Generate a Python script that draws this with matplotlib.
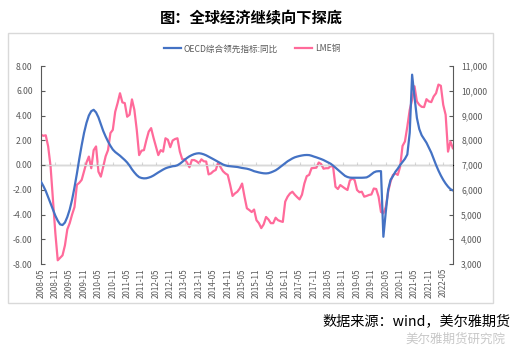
import matplotlib
matplotlib.use("Agg")
import matplotlib.pyplot as plt
import matplotlib.patches as mpatches
import pandas as pd

plt.rcParams['font.family'] = ['Noto Sans CJK SC', 'DejaVu Sans']

# 月份 2008-05 ... 2022-09
months = pd.period_range("2008-05", "2022-09", freq="M").strftime("%Y-%m").tolist()

# OECD综合领先指标:同比 (左轴)
oecd = [
    -1.35, -1.7, -2.1, -2.6, -3.1, -3.6, -4.1, -4.5, -4.8, -4.85,
    -4.65, -4.2, -3.6, -2.8, -1.8, -0.7, 0.5, 1.6, 2.6, 3.4,
    4.0, 4.35, 4.46, 4.25, 3.85, 3.3, 2.75, 2.3, 1.9, 1.55,
    1.25, 1.05, 0.9, 0.75, 0.58, 0.4, 0.2, -0.05, -0.35, -0.6,
    -0.82, -0.98, -1.05, -1.08, -1.07, -1.02, -0.95, -0.85, -0.72, -0.6,
    -0.48, -0.37, -0.27, -0.2, -0.15, -0.1, -0.08, -0.02, 0.1, 0.25,
    0.42, 0.57, 0.7, 0.8, 0.88, 0.93, 0.95, 0.92, 0.86, 0.78,
    0.68, 0.58, 0.47, 0.36, 0.25, 0.14, 0.04, -0.03, -0.08, -0.1,
    -0.12, -0.14, -0.16, -0.2, -0.24, -0.27, -0.3, -0.35, -0.42, -0.5,
    -0.55, -0.6, -0.64, -0.67, -0.68, -0.66, -0.6, -0.52, -0.43, -0.3,
    -0.15, 0.0, 0.15, 0.3, 0.42, 0.53, 0.62, 0.68, 0.73, 0.77,
    0.8, 0.81, 0.8, 0.75, 0.68, 0.62, 0.55, 0.48, 0.4, 0.3,
    0.2, 0.1, -0.05, -0.22, -0.4, -0.55, -0.72, -0.88, -0.97, -1.02,
    -1.03, -1.03, -1.03, -1.03, -1.03, -1.02, -1.0, -0.9, -0.75, -0.6,
    -0.52, -0.5, -0.5, -5.8, -3.8, -2.0, -1.2, -0.9, -0.55, -0.3,
    0.0, 0.25, 0.5, 0.85, 2.6, 7.3, 5.5, 3.8, 2.9, 2.4,
    2.1, 1.8, 1.4, 1.0, 0.5, 0.0, -0.45, -0.85, -1.2, -1.5,
    -1.75, -1.95, -2.05,
]

# LME铜 (右轴, 美元/吨)
copper = [
    8220, 8180, 8200, 7750, 6950, 5600, 4250, 3150, 3250, 3350,
    3750, 4400, 4650, 5000, 5300, 6200, 6280, 6400, 6750, 7100,
    7340, 6870, 7600, 7750, 6730, 6530, 6930, 7350, 7600, 8290,
    8420, 9150, 9500, 9900, 9530, 9500, 8950, 9030, 9650, 9230,
    8420, 7400, 7580, 7600, 8000, 8350, 8490, 8100, 7750, 7400,
    7600, 7540, 8080, 8020, 7720, 7990, 8050, 8080, 7540, 7230,
    7230, 7100, 6910, 7200, 7200, 7150, 7070, 7230, 7150, 7140,
    6620, 6660, 6750, 6800, 7100, 6910, 6750, 6660, 6600, 6200,
    5750, 5850, 5920, 6050, 6250, 5720, 5250, 5180, 5100, 5200,
    4770, 4650, 4450, 4600, 4900, 4800, 4650, 4650, 4870, 4770,
    4730, 4700, 5520, 5720, 5850, 5920, 5800, 5700, 5610, 5800,
    6250, 6550, 6600, 6870, 6880, 6890, 7100, 7040, 6850, 6870,
    6870, 6960, 6930, 6120, 6030, 6190, 6120, 6050, 5990, 6370,
    6460, 6390, 5990, 5900, 5920, 5720, 5750, 5790, 5810, 6050,
    6030, 5720, 5100, 5050, 5300, 5920, 6330, 6600, 6660, 6600,
    6930, 7770, 7950, 8550, 9230, 9640, 10180, 9570, 9430, 9350,
    9340, 9660, 9570, 9540, 9770, 9900, 10250, 10200, 9430, 9030,
    7540, 7950, 7680,
]

blue = '#4472C4'
pink = '#FF6A9A'
grey = '#595959'

fig = plt.figure(figsize=(5.2, 3.52), dpi=100)

# 外框
fig.patches.append(mpatches.Rectangle((0.0154, 0.139), 0.933, 0.767, transform=fig.transFigure,
                                      fill=False, edgecolor='#d9d9d9', linewidth=1.0))

fig.text(0.483, 0.949, '图：全球经济继续向下探底', ha='center', va='center',
         fontsize=11, fontweight='bold')

ax = fig.add_axes([0.0788, 0.25, 0.792, 0.5625])
ax2 = ax.twinx()

x = list(range(len(months)))
l1, = ax.plot(x, oecd, color=blue, linewidth=1.6, zorder=3)
l2, = ax2.plot(x, copper, color=pink, linewidth=1.6)
ax.set_zorder(ax2.get_zorder() + 1)
ax.patch.set_visible(False)

ax.set_ylim(-8, 8)
ax.set_yticks(range(-8, 9, 2))
ax.set_yticklabels([f'{v:.2f}' for v in range(-8, 9, 2)])
ax2.set_ylim(3000, 11000)
ax2.set_yticks(range(3000, 11001, 1000))
ax2.set_yticklabels([f'{v:,}' for v in range(3000, 11001, 1000)])
ax.set_xlim(0, len(months) - 1)

ax.axhline(0, color='#d9d9d9', linewidth=0.9, zorder=1)

ticks = x[::6]
ax.set_xticks(ticks)
ax.set_xticklabels(months[::6], rotation=90, fontsize=5.8, color=grey)
ax.tick_params(axis='x', length=0, pad=3)

# 零轴上的小刻度
sec = ax.secondary_xaxis(0.5)
sec.set_xticks(ticks)
sec.set_xticklabels([])
sec.tick_params(length=2, color='#d9d9d9', direction='out')
sec.spines['bottom'].set_visible(False)

for a in (ax, ax2):
    for s in ('top', 'bottom'):
        a.spines[s].set_visible(False)
ax.spines['right'].set_visible(False)
ax2.spines['left'].set_visible(False)
ax.spines['left'].set_color(grey)
ax2.spines['right'].set_color(grey)
ax.tick_params(axis='y', direction='in', length=3, color=grey, labelsize=6.2,
               labelcolor=grey, pad=6)
ax2.tick_params(axis='y', direction='in', length=3, color=grey, labelsize=6.2,
                labelcolor=grey, pad=6)

fig.legend([l1, l2], ['OECD综合领先指标:同比', 'LME铜'], loc='center',
           bbox_to_anchor=(0.485, 0.861), ncol=2, frameon=False, fontsize=6.2,
           labelcolor=grey, handlelength=2.0, handletextpad=0.3, columnspacing=2.0)

fig.text(0.982, 0.088, '数据来源：wind，美尔雅期货', ha='right', va='center', fontsize=10.2)
fig.text(0.972, 0.035, '美尔雅期货研究院', ha='right', va='center', fontsize=9,
         color='#c8c8c8')

fig.savefig('out.png', dpi=100)
